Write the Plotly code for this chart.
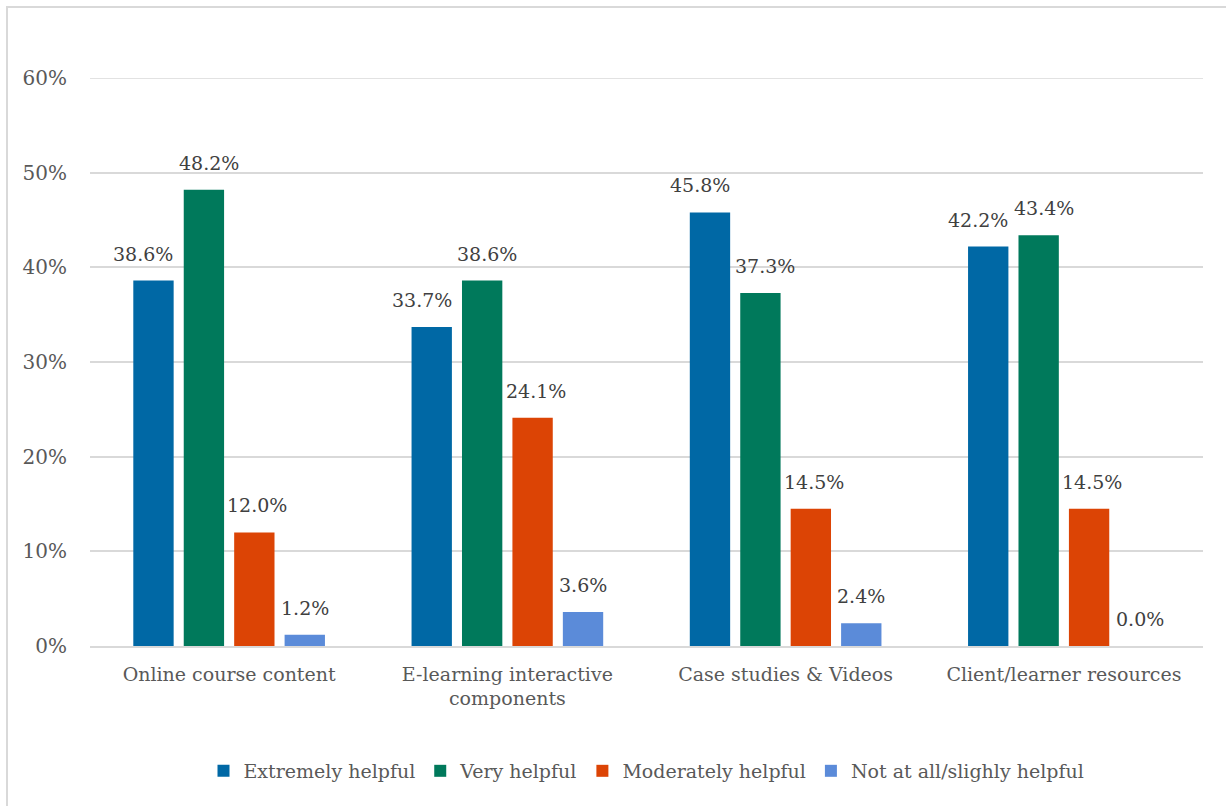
import plotly.graph_objects as go

categories = ["Online course content", "E-learning interactive<br>components",
              "Case studies & Videos", "Client/learner resources"]
series_names = ["Extremely helpful", "Very helpful", "Moderately helpful",
                "Not at all/slighly helpful"]
extremely = [0.386, 0.337, 0.458, 0.422]
very = [0.482, 0.386, 0.373, 0.434]
moderately = [0.120, 0.241, 0.145, 0.145]
not_at_all = [0.012, 0.036, 0.024, 0.000]
colors = ["#0068A5", "#00795B", "#DC4405", "#5B8BD9"]
y_ticks = [0, 0.1, 0.2, 0.3, 0.4, 0.5, 0.6]
y_tick_labels = ["0%", "10%", "20%", "30%", "40%", "50%", "60%"]

FONT = "DejaVu Serif"
W, H = 1226, 806
L, R, T, B = 90, 23, 78, 160
BARGAP = 0.275
LABEL_NUDGE = [-10, 5, 3, 0]  # small horizontal label nudges per series (px)

pw = W - L - R
ph = H - T - B
all_series = [extremely, very, moderately, not_at_all]
n = len(all_series)
slot = pw / len(categories) * (1 - BARGAP) / n

fig = go.Figure()
for name, vals, col in zip(series_names, all_series, colors):
    fig.add_trace(go.Bar(
        x=categories, y=vals, name=name, marker_color=col,
        marker_line_width=0, cliponaxis=False,
    ))

annotations = []
for k, vals in enumerate(all_series):
    for cat, v in zip(categories, vals):
        annotations.append(dict(
            x=cat, y=v, xref="x", yref="y", text=f"{v*100:.1f}%",
            showarrow=False, xanchor="center", yanchor="middle",
            xshift=(k - (n - 1) / 2) * slot + LABEL_NUDGE[k], yshift=27,
            font=dict(family=FONT, size=19, color="#404040"),
        ))

x0 = (7 - L) / pw
y1 = (H - B - 7) / ph
fig.add_shape(type="rect", xref="paper", yref="paper",
              x0=x0, x1=(W + 10 - L) / pw, y0=(H - B - (H + 10)) / ph, y1=y1,
              line=dict(color="#D9D9D9", width=2), fillcolor="rgba(0,0,0,0)")
fig.add_shape(type="line", xref="paper", yref="y", x0=0, x1=1,
              y0=y_ticks[-1], y1=y_ticks[-1], layer="below",
              line=dict(color="#D9D9D9", width=1.5))

fig.update_layout(
    width=W, height=H,
    margin=dict(l=L, r=R, t=T, b=B),
    paper_bgcolor="white", plot_bgcolor="white",
    barmode="group", bargap=BARGAP, bargroupgap=0.2,
    font=dict(family=FONT, color="#595959", size=19),
    annotations=annotations,
    yaxis=dict(range=[0, 0.6], tickvals=y_ticks, ticktext=y_tick_labels,
               showgrid=True, gridcolor="#D9D9D9", gridwidth=1.5,
               zeroline=False, showline=False, ticks="", ticklen=0,
               ticklabelstandoff=22,
               tickfont=dict(family=FONT, size=20, color="#595959")),
    xaxis=dict(showline=True, linecolor="#D9D9D9", linewidth=1.5, ticks="",
               ticklabelstandoff=10,
               tickfont=dict(family=FONT, size=19, color="#595959")),
    legend=dict(orientation="h", x=0.5, xanchor="center", y=-0.22, yanchor="middle",
                font=dict(family=FONT, size=19, color="#595959"),
                itemwidth=30, traceorder="normal"),
)
fig.write_html("out.html")
